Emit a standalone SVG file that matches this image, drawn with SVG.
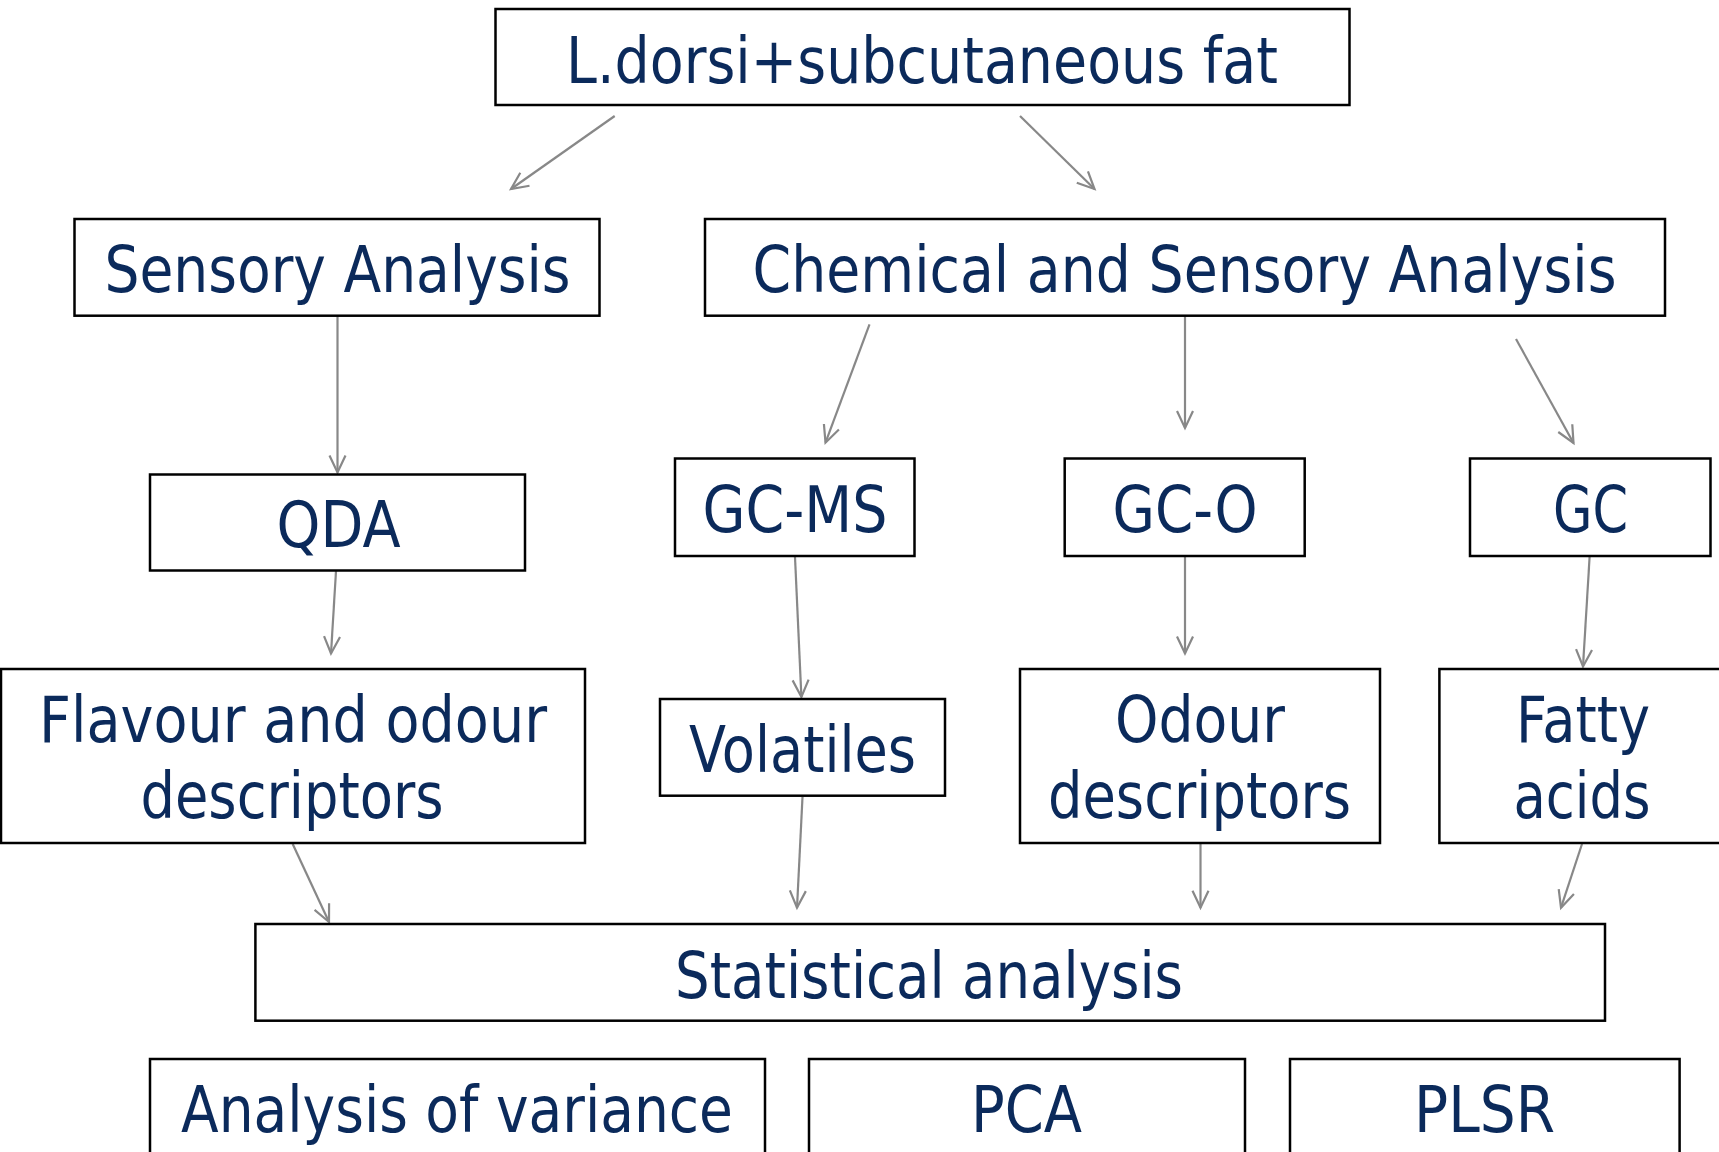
<svg xmlns="http://www.w3.org/2000/svg" width="1719" height="1152" viewBox="0 0 1719 1152">
<style>
.box{fill:#fff;stroke:#000;stroke-width:2.5}
.t{font-family:"DejaVu Sans","Liberation Sans",sans-serif;font-size:64px;fill:#0b2a5b;text-anchor:middle}
.c{fill:none;stroke:#888;stroke-width:2.2}
</style>
<defs>
<marker id="ah" markerUnits="userSpaceOnUse" markerWidth="40" markerHeight="40" refX="0" refY="0" viewBox="-20 -20 40 40" orient="auto" overflow="visible">
<path d="M-17,-8 L0,0 L-17,8" fill="none" stroke="#888" stroke-width="2.2"/>
</marker>
</defs>
<rect width="1719" height="1152" fill="#fff"/>
<g id="connectors">
<line class="c" x1="614.7" y1="116" x2="511" y2="189" marker-end="url(#ah)"/>
<line class="c" x1="1020" y1="116" x2="1094.5" y2="189" marker-end="url(#ah)"/>
<line class="c" x1="337.5" y1="316" x2="337.5" y2="472.5" marker-end="url(#ah)"/>
<line class="c" x1="869.5" y1="324.3" x2="825.5" y2="442.7" marker-end="url(#ah)"/>
<line class="c" x1="1185" y1="316" x2="1185" y2="428" marker-end="url(#ah)"/>
<line class="c" x1="1516" y1="339" x2="1573.5" y2="443" marker-end="url(#ah)"/>
<line class="c" x1="336" y1="571" x2="331" y2="653.5" marker-end="url(#ah)"/>
<line class="c" x1="795" y1="557" x2="801.4" y2="697" marker-end="url(#ah)"/>
<line class="c" x1="1185" y1="557" x2="1185" y2="653.5" marker-end="url(#ah)"/>
<line class="c" x1="1589.6" y1="557" x2="1583" y2="666.5" marker-end="url(#ah)"/>
<line class="c" x1="292.7" y1="844" x2="329" y2="922" marker-end="url(#ah)"/>
<line class="c" x1="802.5" y1="797" x2="797" y2="907.7" marker-end="url(#ah)"/>
<line class="c" x1="1200.5" y1="844" x2="1200.5" y2="907.7" marker-end="url(#ah)"/>
<line class="c" x1="1582" y1="844" x2="1561" y2="907.7" marker-end="url(#ah)"/>
</g>
<g id="n-top"><rect class="box" x="495.5" y="9" width="854" height="96"/><text class="t" x="922" y="83" textLength="712" lengthAdjust="spacingAndGlyphs">L.dorsi+subcutaneous fat</text></g>
<g id="n-sensory"><rect class="box" x="74.5" y="219" width="525" height="96.7"/><text class="t" x="337.5" y="292" textLength="466" lengthAdjust="spacingAndGlyphs">Sensory Analysis</text></g>
<g id="n-chem"><rect class="box" x="705" y="219" width="960" height="96.7"/><text class="t" x="1184.5" y="292" textLength="864" lengthAdjust="spacingAndGlyphs">Chemical and Sensory Analysis</text></g>
<g id="n-qda"><rect class="box" x="150" y="474.5" width="375" height="96"/><text class="t" x="338.6" y="546.7" textLength="124" lengthAdjust="spacingAndGlyphs">QDA</text></g>
<g id="n-gcms"><rect class="box" x="675" y="458.5" width="239.5" height="97.5"/><text class="t" x="795" y="531.7" textLength="185" lengthAdjust="spacingAndGlyphs">GC-MS</text></g>
<g id="n-gco"><rect class="box" x="1064.7" y="458.5" width="240" height="97.5"/><text class="t" x="1185" y="531.7" textLength="145" lengthAdjust="spacingAndGlyphs">GC-O</text></g>
<g id="n-gc"><rect class="box" x="1470" y="458.5" width="240.5" height="97.5"/><text class="t" x="1590.5" y="531.7" textLength="75" lengthAdjust="spacingAndGlyphs">GC</text></g>
<g id="n-flavour"><rect class="box" x="1" y="669" width="584" height="174"/><text class="t" x="293" y="741.7" textLength="508" lengthAdjust="spacingAndGlyphs">Flavour and odour</text><text class="t" x="292" y="818.3" textLength="303" lengthAdjust="spacingAndGlyphs">descriptors</text></g>
<g id="n-volatiles"><rect class="box" x="660" y="699" width="285" height="96.7"/><text class="t" x="802.5" y="771.7" textLength="227" lengthAdjust="spacingAndGlyphs">Volatiles</text></g>
<g id="n-odour"><rect class="box" x="1020" y="669" width="360" height="174"/><text class="t" x="1200" y="741.7" textLength="170" lengthAdjust="spacingAndGlyphs">Odour</text><text class="t" x="1199.5" y="818.3" textLength="303" lengthAdjust="spacingAndGlyphs">descriptors</text></g>
<g id="n-fatty"><rect class="box" x="1439.4" y="669" width="300" height="174"/><text class="t" x="1583" y="741.7" textLength="134" lengthAdjust="spacingAndGlyphs">Fatty</text><text class="t" x="1582" y="818.3" textLength="137" lengthAdjust="spacingAndGlyphs">acids</text></g>
<g id="n-stats"><rect class="box" x="255.4" y="924" width="1349.6" height="96.7"/><text class="t" x="929" y="997.7" textLength="508" lengthAdjust="spacingAndGlyphs">Statistical analysis</text></g>
<g id="n-anova"><rect class="box" x="150" y="1059" width="615" height="120"/><text class="t" x="457" y="1131.7" textLength="552" lengthAdjust="spacingAndGlyphs">Analysis of variance</text></g>
<g id="n-pca"><rect class="box" x="809" y="1059" width="436" height="120"/><text class="t" x="1026.5" y="1131.7" textLength="111" lengthAdjust="spacingAndGlyphs">PCA</text></g>
<g id="n-plsr"><rect class="box" x="1290" y="1059" width="389.6" height="120"/><text class="t" x="1484.5" y="1131.7" textLength="141" lengthAdjust="spacingAndGlyphs">PLSR</text></g>
</svg>
